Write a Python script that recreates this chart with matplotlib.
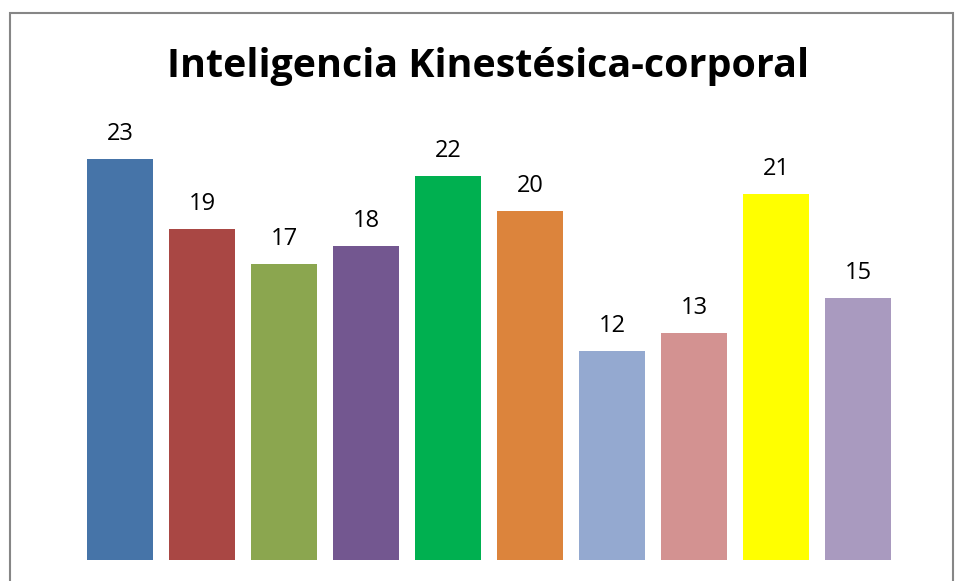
import matplotlib.pyplot as plt
from matplotlib.patches import Rectangle

# datos
categorias = ['1', '2', '3', '4', '5', '6', '7', '8', '9', '10']
valores = [23, 19, 17, 18, 22, 20, 12, 13, 21, 15]
colores = ['#4674A8', '#A94744', '#8BA64F', '#735790', '#00B050',
           '#DC843C', '#94A9D0', '#D39291', '#FFFF00', '#A99ABF']

plt.rcParams['font.family'] = ['Open Sans', 'DejaVu Sans']

fig = plt.figure(figsize=(9.56, 5.81), dpi=100)
W, H = 956, 581
# eje: base en y=560 px, 17.43 px por unidad
ax = fig.add_axes([79 / W, 1 - 560 / H, 820 / W, 440 / H])
x = range(len(categorias))
barras = ax.bar(x, valores, width=0.8, color=colores)
ax.set_xlim(-0.5, len(categorias) - 0.5)
ax.set_ylim(0, 440 / (401 / 23))
ax.axis('off')

for b, v in zip(barras, valores):
    ax.annotate(str(v), (b.get_x() + b.get_width() / 2, v),
                xytext=(0, 13.7), textcoords='offset points',
                ha='center', va='baseline', fontsize=17, color='black')

fig.text(488 / W, 1 - 77 / H, 'Inteligencia Kinestésica-corporal',
         ha='center', va='baseline', fontsize=28.4, fontweight='bold')

# marco del gráfico
fig.patches.append(Rectangle((9.5 / W, -0.1), (953 - 9.5) / W, 1.1 - 13 / H,
                             transform=fig.transFigure, fill=False,
                             edgecolor='#868686', linewidth=1.5))

fig.savefig('out.png', dpi=100)
